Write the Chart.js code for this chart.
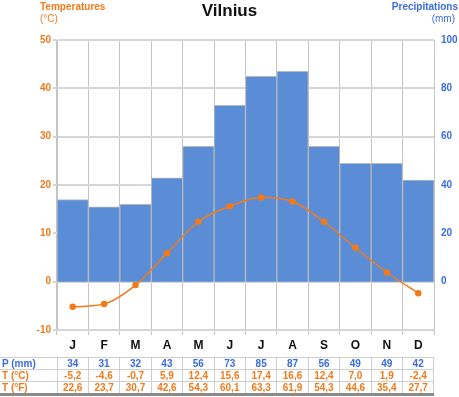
<!DOCTYPE html>
<html>
<head>
<meta charset="utf-8">
<script src="https://cdn.jsdelivr.net/npm/chart.js@4/dist/chart.umd.min.js"></script>
<style>
  body { margin: 0; background: #fff; font-family: "Liberation Sans", Arial, sans-serif; }
  #wrap { position: relative; width: 459px; height: 397px; }
  #graf { position: absolute; left: 0; top: 0; }
  .lbl { position: absolute; font-weight: bold; white-space: nowrap; }
  #tabla { position: absolute; left: 0; top: 357px; border-collapse: collapse; table-layout: fixed;
           font-size: 10px; font-weight: bold; border-bottom: 3px solid #8a8a8a; }
  #tabla td { border: 1px solid #cfcfcf; height: 11px; padding: 0; text-align: center; line-height: 11px; }
  #tabla td.cab { text-align: left; padding-left: 2px; border-left: none; }
  .azul { color: #3a6be0; }
  .naranja { color: #f27a1a; }
</style>
</head>
<body>
<div id="wrap">
  <canvas id="graf" width="459" height="397"></canvas>
  <div class="lbl" style="left:0;top:1px;width:459px;text-align:center;font-size:17px;color:#111;">Vilnius</div>
  <div class="lbl naranja" style="left:40px;top:1px;font-size:10px;">Temperatures</div>
  <div class="lbl naranja" style="left:40px;top:13px;font-size:10px;font-weight:normal;">(°C)</div>
  <div class="lbl azul" style="right:1px;top:1px;font-size:10px;">Precipitations</div>
  <div class="lbl azul" style="right:4px;top:13px;font-size:10px;font-weight:normal;">(mm)</div>
  <table id="tabla"></table>
</div>
<script>
// datos del climograma
const meses = ["J", "F", "M", "A", "M", "J", "J", "A", "S", "O", "N", "D"];
const precip = [34, 31, 32, 43, 56, 73, 85, 87, 56, 49, 49, 42];
const tempC = [-5.2, -4.6, -0.7, 5.9, 12.4, 15.6, 17.4, 16.6, 12.4, 7.0, 1.9, -2.4];
const tempF = [22.6, 23.7, 30.7, 42.6, 54.3, 60.1, 63.3, 61.9, 54.3, 44.6, 35.4, 27.7];
const ticksT = [-10, 0, 10, 20, 30, 40, 50];
const ticksP = [0, 20, 40, 60, 80, 100];

const NARANJA = '#f27a1a';
const AZUL = '#3a6be0';

function coma(v) { return v.toFixed(1).replace('.', ','); }

const ctx = document.getElementById('graf');
const chart = new Chart(ctx, {
  data: {
    labels: meses,
    datasets: [
      {
        type: 'line', label: 'T', data: tempC, yAxisID: 'yT', order: 0,
        borderColor: NARANJA, backgroundColor: NARANJA, borderWidth: 1.5,
        pointRadius: 2.5, pointHoverRadius: 2.5, tension: 0.4, cubicInterpolationMode: 'monotone'
      },
      {
        type: 'bar', label: 'P', data: precip, yAxisID: 'yP', order: 1,
        backgroundColor: '#5b8dd7', borderColor: '#b9b9b9', borderWidth: 1,
        barPercentage: 1, categoryPercentage: 1
      }
    ]
  },
  options: {
    responsive: false, animation: false,
    layout: { padding: { top: 40, left: 0, right: 0, bottom: 0 } },
    plugins: { legend: { display: false }, tooltip: { enabled: false }, title: { display: false } },
    scales: {
      x: {
        offset: true,
        grid: { offset: true, color: '#c4c4c4', lineWidth: 1, tickLength: 5 },
        border: { display: false },
        ticks: { color: '#111', font: { family: 'Liberation Sans', size: 12, weight: 'bold' }, padding: 3, maxRotation: 0 },
        afterFit: s => { s.height = 67; }
      },
      yT: {
        position: 'left', min: -10, max: 50,
        afterBuildTicks: s => { s.ticks = ticksT.map(v => ({ value: v })); },
        grid: { color: '#d6d6d6', lineWidth: 2, tickLength: 4 },
        border: { color: '#c4c4c4' },
        ticks: { color: NARANJA, font: { family: 'Liberation Sans', size: 10, weight: 'bold' }, padding: 2 },
        afterFit: s => { s.width = 57; }
      },
      yP: {
        position: 'right', min: -20, max: 100,
        afterBuildTicks: s => { s.ticks = ticksP.map(v => ({ value: v })); },
        grid: { display: false, drawTicks: false },
        border: { display: false },
        ticks: { color: AZUL, font: { family: 'Liberation Sans', size: 10, weight: 'bold' }, padding: 7 },
        afterFit: s => { s.width = 25; }
      }
    }
  }
});

// tabla de valores alineada con las columnas del grafico
function construirTabla() {
  const area = chart.chartArea;
  const ancho = (area.right - area.left) / meses.length;
  const tabla = document.getElementById('tabla');
  let html = '<colgroup><col style="width:' + area.left + 'px">';
  for (let i = 0; i < meses.length; i++) html += '<col style="width:' + ancho + 'px">';
  html += '</colgroup>';
  const filas = [
    ['P (mm)', 'azul', precip.map(v => String(v))],
    ['T (°C)', 'naranja', tempC.map(coma)],
    ['T (°F)', 'naranja', tempF.map(coma)]
  ];
  filas.forEach(f => {
    html += '<tr><td class="cab ' + f[1] + '">' + f[0] + '</td>';
    f[2].forEach(t => { html += '<td class="' + f[1] + '">' + t + '</td>'; });
    html += '</tr>';
  });
  tabla.innerHTML = html;
  tabla.style.width = area.right + 'px';
}
construirTabla();
</script>
</body>
</html>
